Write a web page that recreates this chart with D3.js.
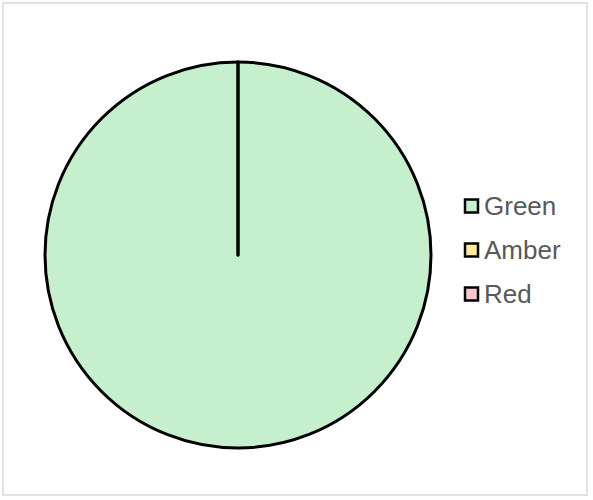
<!DOCTYPE html>
<html>
<head>
<meta charset="utf-8">
<script src="https://cdn.jsdelivr.net/npm/d3@7"></script>
<style>
  html, body { margin: 0; padding: 0; background: #fff; }
  svg { display: block; }
</style>
</head>
<body>
<svg id="chart" width="593" height="500"></svg>
<script>
// RAG status breakdown
const categories = ["Green", "Amber", "Red"];
const values = [100, 0, 0];
const fills = ["#c6efce", "#ffeb9c", "#ffc7ce"];

const svg = d3.select("#chart");

// chart-area frame
svg.append("rect")
  .attr("x", 3).attr("y", 3)
  .attr("width", 584).attr("height", 492)
  .attr("fill", "#fff")
  .attr("stroke", "#d9d9d9")
  .attr("stroke-width", 1.5);

const cx = 238, cy = 255, radius = 193;

const color = d3.scaleOrdinal().domain(categories).range(fills);

const pie = d3.pie().sort(null).value(d => d.value);
const arc = d3.arc().innerRadius(0).outerRadius(radius);

const data = categories.map((c, i) => ({ name: c, value: values[i] }));

const g = svg.append("g").attr("transform", `translate(${cx},${cy})`);
g.selectAll("path")
  .data(pie(data))
  .join("path")
  .attr("d", arc)
  .attr("fill", d => color(d.data.name))
  .attr("stroke", "#000")
  .attr("stroke-width", 3)
  .attr("stroke-linejoin", "round");

// legend
const legend = svg.append("g").attr("transform", "translate(465,206)");
const item = legend.selectAll("g")
  .data(categories)
  .join("g")
  .attr("transform", (d, i) => `translate(0,${i * 44})`);

item.append("rect")
  .attr("x", 0).attr("y", -6.5)
  .attr("width", 13).attr("height", 13)
  .attr("fill", d => color(d))
  .attr("stroke", "#000")
  .attr("stroke-width", 2.5);

item.append("text")
  .attr("x", 19).attr("y", 0)
  .attr("dy", "0.36em")
  .attr("font-family", "Liberation Sans, Arial, sans-serif")
  .attr("font-size", 26)
  .attr("fill", "#595959")
  .text(d => d);
</script>
</body>
</html>
